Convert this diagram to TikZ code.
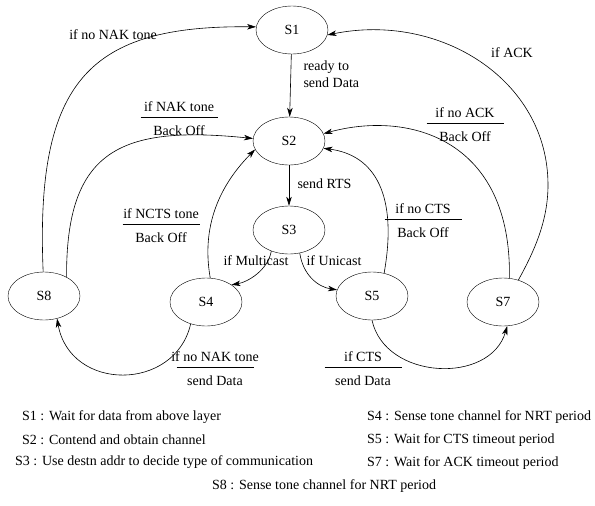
\documentclass[tikz,border=0pt]{standalone}
\usepackage{fontspec}
\setmainfont{Liberation Serif}
\usetikzlibrary{arrows.meta, shapes.geometric}
\newcommand{\cond}[2]{\begin{tabular}{@{}c@{}}\makebox[77pt]{#1}\\\hline\rule{0pt}{18.5pt}#2\end{tabular}}
\begin{document}
\begin{tikzpicture}[x=1pt, y=-1pt,
        every node/.append style={font=\fontsize{14}{17}\selectfont},
        state/.style={draw, ellipse, minimum width=72pt, minimum height=48pt, inner sep=0pt},
        condlabel/.style={inner sep=0pt},
        arr/.style={-{Stealth[length=9pt, width=5.5pt, inset=2.5pt]}, line width=0.6pt},
        legend/.style={anchor=west, inner sep=0pt}]
        \useasboundingbox (0,0) rectangle (595,506);
        \node[state] (s1) at (292,30) {S1};
        \node[state] (s2) at (289,141) {S2};
        \node[state] (s3) at (289,230) {S3};
        \node[state] (s8) at (44,296) {S8};
        \node[state] (s4) at (206,302) {S4};
        \node[state] (s5) at (372,296) {S5};
        \node[state] (s7) at (503,302) {S7};

        \draw[arr] (s1) -- (s2);
        \draw[arr] (s2) -- (s3);
        \draw[arr] (s3.230) .. controls (268,270) and (248,282) .. (s4.34);
        \draw[arr] (s3.295) .. controls (303,275) and (318,287) .. (s5.170);
        \draw[arr] (s4.235) .. controls (175,392) and (70,392) .. (s8.300);
        \draw[arr] (s5.270) .. controls (385,380) and (490,385) .. (s7.280);
        \draw[arr] (s4.80) .. controls (200,220) and (225,180) .. (s2.194);
        \draw[arr] (s8.40) .. controls (66,150) and (120,125) .. (s2.176);
        \draw[arr] (s8.92) .. controls (35,80) and (90,25) .. (s1.175);
        \draw[arr] (s5.62) .. controls (398,195) and (375,155) .. (s2.348);
        \draw[arr] (s7.75) .. controls (512,140) and (410,110) .. (s2.12);
        \draw[arr] (s7.55) .. controls (535,250) and (548,220) .. (548,185)
            .. controls (548,80) and (440,12) .. (s1.352);

        \node (lnonak) at (113,35) {if no NAK tone};
        \node[anchor=west, align=left] (lready) at (300,74) {ready to\\send Data};
        \node[anchor=west] (lrts) at (294,184) {send RTS};
        \node (lmulti) at (256,261) {if Multicast};
        \node (luni) at (334,261) {if Unicast};
        \node (lack) at (512,53) {if ACK};
        \node[condlabel] (cnak) at (179,120.5) {\cond{if NAK tone}{Back Off}};
        \node[condlabel] (cncts) at (161,227.5) {\cond{if NCTS tone}{Back Off}};
        \node[condlabel] (cnoack) at (465,126.5) {\cond{if no ACK}{Back Off}};
        \node[condlabel] (cnocts) at (423,222.5) {\cond{if no CTS}{Back Off}};
        \node[condlabel] (cnonak) at (215,370.5) {\cond{if no NAK tone}{send Data}};
        \node[condlabel] (ccts) at (363,370.5) {\cond{if CTS}{send Data}};

        \node[legend] (d1) at (22,417) {S1 : Wait for data from above layer};
        \node[legend] (d2) at (22,440) {S2 : Contend and obtain channel};
        \node[legend] (d3) at (15,462) {S3 : Use destn addr to decide type of communication};
        \node[legend] (d4) at (367,417) {S4 : Sense tone channel for NRT period};
        \node[legend] (d5) at (367,440) {S5 : Wait for CTS timeout period};
        \node[legend] (d7) at (367,463) {S7 : Wait for ACK timeout period};
        \node[legend] (d8) at (212,486) {S8 : Sense tone channel for NRT period};
\end{tikzpicture}
\end{document}
